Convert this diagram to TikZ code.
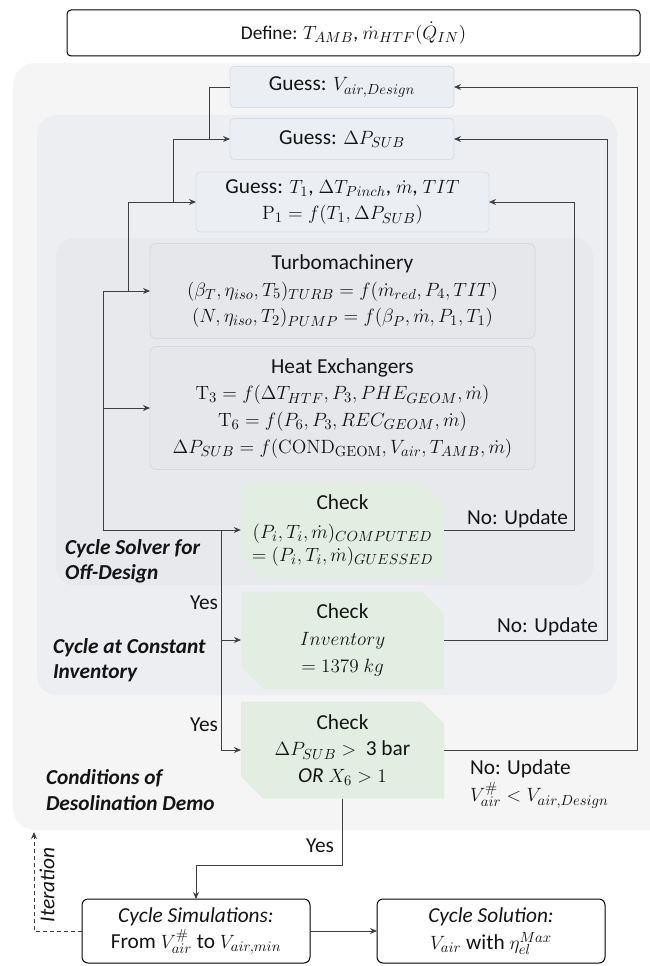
\documentclass[tikz,border=0pt]{standalone}
\usepackage[no-math]{fontspec}
\setmainfont{Carlito}
\usetikzlibrary{arrows.meta,shapes.misc}

% formulas keep one size next to both text sizes
\DeclareMathSizes{14.5}{15.5}{11}{9}
\DeclareMathSizes{16}{15.5}{11}{9}

\definecolor{outerbg}{HTML}{F5F5F6}
\definecolor{midbg}{HTML}{EDEEF1}
\definecolor{innerbg}{HTML}{E7E9EC}
\definecolor{guessfill}{HTML}{EBEEF2}
\definecolor{guessline}{HTML}{D9DDE3}
\definecolor{modfill}{HTML}{E5E7EA}
\definecolor{modline}{HTML}{D6D9DE}
\definecolor{chkgreen}{HTML}{E2EEE1}
\definecolor{ln}{HTML}{3F3F3F}
\definecolor{txt}{HTML}{141414}

\tikzset{
  every node/.style={inner sep=0pt, outer sep=0pt, text=txt},
  boxfont/.style={font=\fontsize{16}{20}\selectfont, align=center},
  topbox/.style={font=\fontsize{14.5}{20}\selectfont, align=center,
    draw=black, line width=0.75pt, rounded corners=3pt, fill=white},
  guessbox/.style={boxfont, fill=guessfill, draw=guessline, line width=0.6pt, rounded corners=3pt},
  modbox/.style={boxfont, fill=modfill, draw=modline, line width=0.6pt, rounded corners=4.5pt},
  chkbox/.style={boxfont, shape=chamfered rectangle,
    chamfered rectangle corners={north east,south west},
    chamfered rectangle xsep=8.25pt, chamfered rectangle ysep=8.25pt,
    fill=chkgreen, minimum width=152.25pt},
  endbox/.style={boxfont, draw=black, line width=0.75pt, rounded corners=4.5pt, fill=white,
    minimum width=171pt, minimum height=48pt},
  lbl/.style={font=\fontsize{16}{20}\selectfont},
  ttl/.style={font=\fontsize{16}{19}\selectfont\bfseries\itshape, align=left, anchor=west},
  ln/.style={draw=ln, line width=0.7pt},
  arr/.style={ln, -{Stealth[length=5.25pt,width=4.5pt]}},
  dsh/.style={ln, dash pattern=on 3pt off 2.25pt, -{Stealth[length=5.25pt,width=4.5pt]}},
}

\begin{document}
\begin{tikzpicture}[x=0.75pt,y=-0.75pt]
\useasboundingbox (0,0) rectangle (649,966);

% nested solver regions
\fill[outerbg, rounded corners=16.5pt] (13,63) rectangle (700,830);
\fill[midbg, rounded corners=15pt] (37,115) rectangle (617,695);
\fill[innerbg, rounded corners=13.5pt] (56,238) rectangle (593,585);

% region titles
\node[ttl] (tsolver) at (65,561) {Cycle Solver for\\Off-Design};
\node[ttl] (tinv) at (53,660) {Cycle at Constant\\Inventory};
\node[ttl] (tcond) at (46,790) {Conditions of\\Desolination Demo};

% boxes
\node[topbox, minimum width=429.75pt, minimum height=34.5pt] (def) at (353.5,33)
  {Define: $T_{AMB}$, $\dot m_{HTF}(\dot Q_{IN})$};
\node[guessbox, minimum width=168pt, minimum height=30.75pt] (gV) at (342,87)
  {Guess: $V_{air,Design}$};
\node[guessbox, minimum width=168pt, minimum height=30.75pt] (gP) at (342,139)
  {Guess: $\Delta P_{SUB}$};
\node[guessbox, minimum width=219.75pt, minimum height=45pt] (gT) at (342.5,202)
  {Guess: $T_1$, $\Delta T_{Pinch}$, $\dot m$, $TIT$\\
   $\mathrm{P}_1 = f(T_1, \Delta P_{SUB})$};
\node[modbox, minimum width=288.75pt, minimum height=71.25pt] (turbo) at (342.5,291)
  {Turbomachinery\\
   $(\beta_T, \eta_{iso}, T_5)_{TURB} = f(\dot m_{red}, P_4, TIT)$\\
   $(N, \eta_{iso}, T_2)_{PUMP} = f(\beta_P, \dot m, P_1, T_1)$};
\node[modbox, minimum width=288.75pt, minimum height=92.25pt] (hx) at (342.5,408)
  {Heat Exchangers\\
   $\mathrm{T}_3 = f(\Delta T_{HTF}, P_3, PHE_{GEOM}, \dot m)$\\
   $\mathrm{T}_6 = f(P_6, P_3, REC_{GEOM}, \dot m)$\\
   $\Delta P_{SUB} = f(\mathrm{COND_{GEOM}}, V_{air}, T_{AMB}, \dot m)$};
\node[chkbox, minimum height=72pt] (ck1) at (342.5,530)
  {Check\\[2pt]
   $(P_i, T_i, \dot m)_{COMPUTED}$\\[-3pt]
   $= (P_i, T_i, \dot m)_{GUESSED}$};
\node[chkbox, minimum height=72.75pt] (ck2) at (342.5,640)
  {Check\\ $Inventory$\\ $= 1379\ kg$};
\node[chkbox, minimum height=72.75pt] (ck3) at (342.5,750)
  {Check\\ $\Delta P_{SUB} >$ \ 3 bar\\ \textit{OR} $X_6 > 1$};
\node[endbox] (sim) at (196,931)
  {\textit{Cycle Simulations:}\\ From $V^{\#}_{air}$ to $V_{air,min}$};
\node[endbox] (sol) at (491,931)
  {\textit{Cycle Solution:}\\ $V_{air}$ with $\eta^{Max}_{el}$};

% bends of the forward cascade
\coordinate (bV) at (209,139);
\coordinate (b1) at (173,139);
\coordinate (b2) at (128,202);
\coordinate (b3) at (103,291);
\coordinate (b4) at (103,530);
\coordinate (y1) at (221,530);

% forward cascade
\draw[ln] (gV.west) -| (bV);
\draw[arr] (b1) -- (gP.west);
\draw[ln] (b1) -- (b1 |- gT.west);
\draw[arr] (b2) -- (gT.west);
\draw[ln] (b2) -- (b2 |- turbo.west);
\draw[arr] (b3) -- (turbo.west);
\draw[ln] (b3) -- (b4);
\draw[arr] (b3 |- hx.west) -- (hx.west);
\draw[arr] (b4) -- (ck1.west);

% converged branches
\draw[ln] (y1) -- (y1 |- ck3.west);
\draw[arr] (y1 |- ck2.west) -- (ck2.west);
\draw[arr] (y1 |- ck3.west) -- (ck3.west);

% update loops
\coordinate (fb1) at (574,202);
\coordinate (fb2) at (607,139);
\coordinate (fb3) at (637,87);
\draw[arr] (ck1.east) -| (fb1) -- (gT.east);
\draw[arr] (ck2.east) -| (fb2) -- (gP.east);
\draw[arr] (ck3.east) -| (fb3) -- (gV.east);

% exit to the simulations
\coordinate (yb) at (196,865);
\draw[arr] (ck3.south) |- (yb) -- (sim.north);
\draw[arr] (sim.east) -- (sol.west);
\coordinate (it) at (34,832);
\draw[dsh] (sim.west) -| (it);

% connector labels
\node[lbl, anchor=east] (nu1) at (568,519) {No: Update};
\node[lbl, anchor=east] (nu2) at (598,627) {No: Update};
\node[lbl, anchor=west, align=left] (nu3) at (470,784)
  {No: Update\\ $V^{\#}_{air} < V_{air,Design}$};
\node[lbl, anchor=east] (yes1) at (218,603) {Yes};
\node[lbl, anchor=east] (yes2) at (218,725) {Yes};
\node[lbl, anchor=east] (yes3) at (334,846) {Yes};
\node[lbl, font=\fontsize{16}{18}\selectfont\itshape, rotate=90] (itl) at (47,885) {Iteration};

\end{tikzpicture}
\end{document}
